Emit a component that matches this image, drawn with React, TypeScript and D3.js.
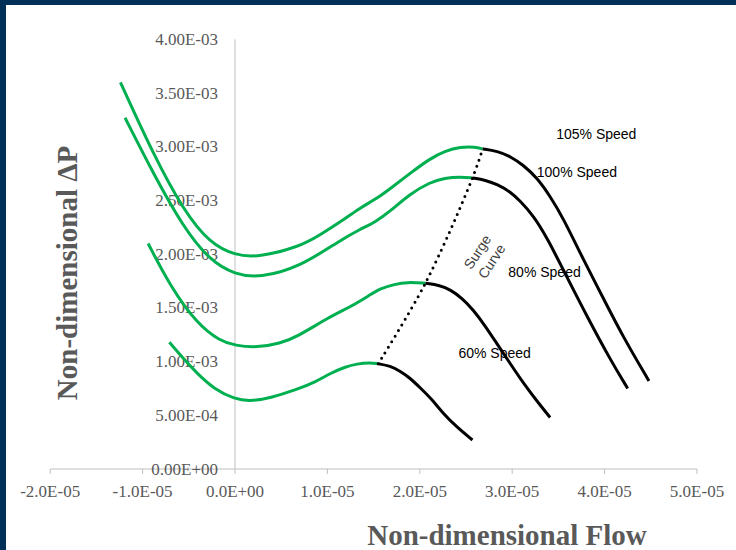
import React from 'react';
import * as d3 from 'd3';

const W = 736;
const H = 550;

// flow in units of 1E-05, dP in units of 1E-03
const FLOW_UNIT = 1e-5;
const DP_UNIT = 1e-3;

const xTicks = [-2e-5, -1e-5, 0, 1e-5, 2e-5, 3e-5, 4e-5, 5e-5];
const yTicks = [0, 5e-4, 1e-3, 1.5e-3, 2e-3, 2.5e-3, 3e-3, 3.5e-3, 4e-3];

// stable part (left of surge) of each speed line
const s105Stable: [number, number][] = [
  [-1.24, 3.6], [-0.89, 2.94], [-0.56, 2.41], [-0.27, 2.1], [0, 1.99], [0.25, 1.97],
  [0.7, 2.07], [0.92, 2.18], [1.14, 2.3], [1.35, 2.43], [1.52, 2.51], [1.68, 2.61],
  [1.89, 2.75], [2.11, 2.89], [2.27, 2.96], [2.44, 3.0], [2.6, 3.0], [2.68, 2.98],
];
const s100Stable: [number, number][] = [
  [-1.19, 3.27], [-0.89, 2.76], [-0.56, 2.25], [-0.27, 1.94], [0, 1.81], [0.27, 1.78],
  [0.7, 1.88], [1.14, 2.13], [1.35, 2.23], [1.52, 2.3], [1.68, 2.4], [1.89, 2.56],
  [2.11, 2.67], [2.27, 2.71], [2.44, 2.72], [2.57, 2.71],
];
const s80Stable: [number, number][] = [
  [-0.94, 2.1], [-0.7, 1.7], [-0.41, 1.35], [-0.16, 1.19], [0, 1.15], [0.24, 1.13],
  [0.49, 1.17], [0.67, 1.23], [1.03, 1.42], [1.25, 1.51], [1.46, 1.62], [1.57, 1.68],
  [1.73, 1.72], [1.86, 1.74], [2.06, 1.73],
];
const s60Stable: [number, number][] = [
  [-0.71, 1.18], [-0.56, 1.03], [-0.41, 0.89], [-0.22, 0.74], [0, 0.65], [0.16, 0.63],
  [0.38, 0.66], [0.67, 0.74], [0.87, 0.81], [1.03, 0.89], [1.19, 0.95], [1.32, 0.98],
  [1.46, 0.99], [1.55, 0.98],
];

// part to the right of the surge line
const s105Choke: [number, number][] = [
  [2.68, 2.98], [2.84, 2.96], [2.98, 2.91], [3.12, 2.83], [3.27, 2.71], [3.41, 2.54],
  [3.55, 2.34], [3.77, 1.95], [3.98, 1.6], [4.2, 1.23], [4.48, 0.82],
];
const s100Choke: [number, number][] = [
  [2.57, 2.71], [2.71, 2.69], [2.84, 2.65], [2.98, 2.58], [3.08, 2.5], [3.23, 2.36],
  [3.38, 2.15], [3.59, 1.79], [3.81, 1.42], [4.06, 1.02], [4.25, 0.75],
];
const s80Choke: [number, number][] = [
  [2.06, 1.73], [2.22, 1.71], [2.33, 1.67], [2.46, 1.59], [2.58, 1.48], [2.71, 1.33],
  [2.84, 1.16], [2.98, 0.98], [3.12, 0.8], [3.27, 0.63], [3.41, 0.48],
];
const s60Choke: [number, number][] = [
  [1.55, 0.98], [1.68, 0.96], [1.79, 0.91], [1.89, 0.85], [2.0, 0.76], [2.13, 0.65],
  [2.25, 0.52], [2.4, 0.39], [2.57, 0.27],
];

const surgeLine: [number, number][] = [
  [1.55, 0.98], [2.06, 1.73], [2.57, 2.71], [2.68, 2.98],
];

const speedLabels = [
  { text: '105% Speed', flow: 3.91, dp: 3.12 },
  { text: '100% Speed', flow: 3.7, dp: 2.77 },
  { text: '80% Speed', flow: 3.35, dp: 1.83 },
  { text: '60% Speed', flow: 2.81, dp: 1.08 },
];

const fmtE = (v: number, digits: number) => {
  const [m, e] = v.toExponential(digits).split('e');
  const n = +e;
  return `${m}E${n < 0 ? '-' : '+'}${String(Math.abs(n)).padStart(2, '0')}`;
};

export default function App() {
  const x = d3.scaleLinear().domain([-2e-5, 5e-5]).range([50.2, 697]);
  const y = d3.scaleLinear().domain([0, 4e-3]).range([469, 39.4]);

  const line = d3
    .line<[number, number]>()
    .x((d) => x(d[0] * FLOW_UNIT))
    .y((d) => y(d[1] * DP_UNIT))
    .curve(d3.curveBasis);

  const dotted = d3
    .line<[number, number]>()
    .x((d) => x(d[0] * FLOW_UNIT))
    .y((d) => y(d[1] * DP_UNIT))
    .curve(d3.curveCatmullRom.alpha(0.5));

  const stable = [s105Stable, s100Stable, s80Stable, s60Stable];
  const choke = [s105Choke, s100Choke, s80Choke, s60Choke];

  const axisColor = '#bfbfbf';
  const labelColor = '#595959';
  const x0 = x(0);
  const y0 = y(0);

  // surge label position
  const sx = x(2.695 * FLOW_UNIT);
  const sy = y(1.98 * DP_UNIT);

  return (
    <svg
      width={W}
      height={H}
      style={{ position: 'absolute', left: 0, top: 0, background: '#fff' }}
      xmlns="http://www.w3.org/2000/svg"
    >
      <rect x={0} y={0} width={W} height={H} fill="#fff" />
      <rect x={0} y={0} width={W} height={5} fill="#003057" />
      <rect x={0} y={0} width={6} height={H} fill="#003057" />

      {/* axes */}
      <line x1={x0} x2={x0} y1={y(4e-3)} y2={y0} stroke={axisColor} strokeWidth={1} />
      <line x1={x(-2e-5)} x2={x(5e-5)} y1={y0} y2={y0} stroke={axisColor} strokeWidth={1} />
      {xTicks.map((t) => (
        <line key={'xt' + t} x1={x(t)} x2={x(t)} y1={y0} y2={y0 + 5} stroke={axisColor} />
      ))}

      <g fontFamily="'Liberation Serif', 'Times New Roman', serif" fontSize={17} fill={labelColor}>
        {yTicks.map((t) => (
          <text key={'yl' + t} x={x0 - 17} y={y(t)} textAnchor="end" dominantBaseline="central">
            {fmtE(t, 2)}
          </text>
        ))}
        {xTicks.map((t) => (
          <text key={'xl' + t} x={x(t)} y={y0 + 22} textAnchor="middle" dominantBaseline="central">
            {fmtE(t, 1)}
          </text>
        ))}
      </g>

      <text
        x={507}
        y={535}
        textAnchor="middle"
        dominantBaseline="central"
        fontFamily="'Liberation Serif', 'Times New Roman', serif"
        fontWeight="bold"
        fontSize={29}
        fill={labelColor}
      >
        Non-dimensional Flow
      </text>
      <text
        transform="translate(67,273) rotate(-90)"
        textAnchor="middle"
        dominantBaseline="central"
        fontFamily="'Liberation Serif', 'Times New Roman', serif"
        fontWeight="bold"
        fontSize={29}
        fill={labelColor}
      >
        Non-dimensional ΔP
      </text>

      {/* speed lines */}
      {stable.map((d, i) => (
        <path key={'g' + i} d={line(d) || ''} fill="none" stroke="#00b050" strokeWidth={3} />
      ))}
      {choke.map((d, i) => (
        <path key={'k' + i} d={line(d) || ''} fill="none" stroke="#000" strokeWidth={3} />
      ))}

      {/* surge line */}
      <path
        d={dotted(surgeLine) || ''}
        fill="none"
        stroke="#000"
        strokeWidth={3}
        strokeLinecap="round"
        strokeDasharray="0 6.5"
      />

      <g fontFamily="'Liberation Sans', Arial, sans-serif" fontSize={14} fill="#000">
        {speedLabels.map((l) => (
          <text
            key={l.text}
            x={x(l.flow * FLOW_UNIT)}
            y={y(l.dp * DP_UNIT)}
            textAnchor="middle"
            dominantBaseline="central"
          >
            {l.text}
          </text>
        ))}
        <text
          transform={`translate(${sx},${sy}) rotate(-57)`}
          textAnchor="middle"
          fill="#404040"
        >
          <tspan x={0} y={-3}>Surge</tspan>
          <tspan x={0} y={14}>Curve</tspan>
        </text>
      </g>
    </svg>
  );
}
